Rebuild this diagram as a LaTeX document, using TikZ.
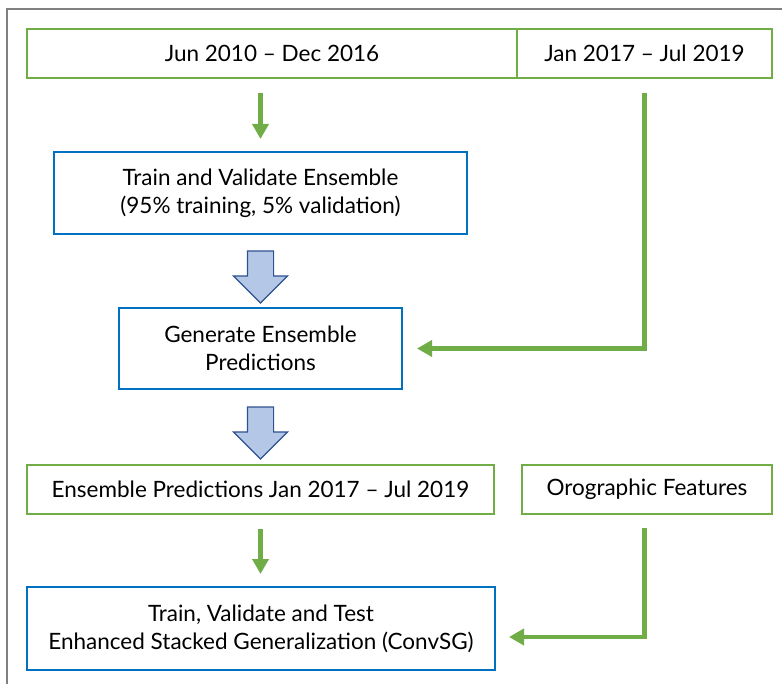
\documentclass[tikz,border=0pt]{standalone}
\usepackage{fontspec}
\setmainfont{Lato}
\usetikzlibrary{positioning}
\usetikzlibrary{arrows.meta}
\usetikzlibrary{shapes.arrows}
\definecolor{boxgreen}{HTML}{70AD47}
\definecolor{boxblue}{HTML}{0070C0}
\definecolor{fatfill}{HTML}{B4C7E7}
\definecolor{fatline}{HTML}{2F528F}
\definecolor{framegray}{HTML}{808080}

\begin{document}
\begin{tikzpicture}[
                      x=1pt, y=-1pt,
                      every node/.style={font=\fontsize{22.5}{28}\selectfont, align=center, inner sep=0pt},
                      greenbox/.style={draw=boxgreen, line width=2pt, minimum height=49pt},
                      bluebox/.style={draw=boxblue, line width=2pt},
                      flow/.style={draw=boxgreen, line width=4.5pt, -{Triangle[width=16pt,length=15pt]}},
                      fat/.style={single arrow, draw=fatline, fill=fatfill, line width=1.2pt,
                                  shape border rotate=270, minimum height=52pt, inner sep=12.5pt,
                                  single arrow head extend=14pt}
                  ]
                  \useasboundingbox (0,0) rectangle (782,684);
                  % frame
                  \draw[framegray, line width=1.2pt] (7,684) -- (7,9) -- (782,9);
                  % periods
                  \node[greenbox, minimum width=490pt] at (272,53.5) (early) {Jun 2010 -- Dec 2016};
                  \node[greenbox, minimum width=255pt] at (644.5,53.5) (late) {Jan 2017 -- Jul 2019};
                  % ensemble
                  \node[bluebox, minimum width=413pt, minimum height=82pt] at (260.5,193) (train) {Train and Validate Ensemble\\(95\% training, 5\% validation)};
                  \node[fat] at (260.5,270.5) (fat1) {};
                  \node[bluebox, minimum width=283pt, minimum height=81pt] at (260.5,348.5) (gen) {Generate Ensemble\\Predictions};
                  \node[fat] at (260.5,426.5) (fat2) {};
                  % stacking inputs
                  \node[greenbox, minimum width=467pt] at (260.5,489.5) (ens) {Ensemble Predictions Jan 2017 -- Jul 2019};
                  \node[greenbox, minimum width=250pt] at (647,489.5) (oro) {Orographic Features};
                  \node[bluebox, minimum width=468pt, minimum height=83pt] at (261,628.5) (final) {Train, Validate and Test\\Enhanced Stacked Generalization (ConvSG)};
                  \coordinate (oroin) at ([yshift=-8.5pt]final.east);
                  % connectors
                  \draw[flow, shorten <=14pt, shorten >=12pt] (early.south -| train.north) -- (train.north);
                  \draw[flow, shorten <=14pt, shorten >=14pt] (late.south) |- (gen.east);
                  \draw[flow, shorten <=14pt, shorten >=12pt] (ens.south) -- (ens.south |- final.north);
                  \draw[flow, shorten <=13pt, shorten >=13pt] (oro.south -| late.south) |- (oroin);
              \end{tikzpicture}
\end{document}
